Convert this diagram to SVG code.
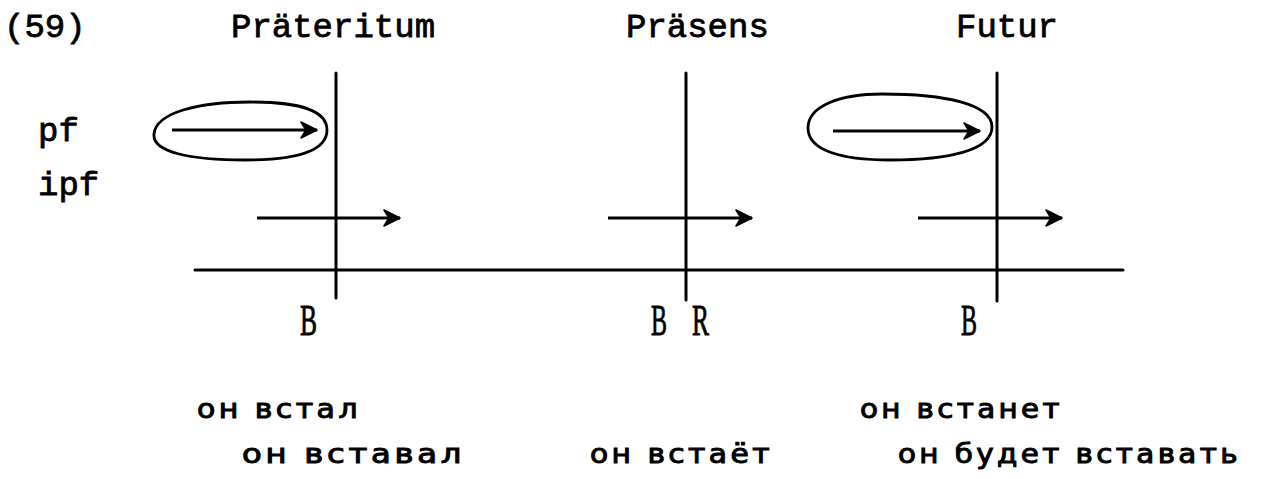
<svg xmlns="http://www.w3.org/2000/svg" width="1262" height="479" viewBox="0 0 1262 479">
<style>
.title{font-family:"Liberation Mono","DejaVu Sans Mono",monospace;font-size:34px;fill:#000;stroke:#000;stroke-width:0.8}
.ru{font-family:"DejaVu Sans","Liberation Sans",sans-serif;font-size:26px;letter-spacing:3px;fill:#000;stroke:#000;stroke-width:1}
.lbl{font-family:"Liberation Serif","DejaVu Serif",serif;font-size:44px;fill:#000;stroke:#000;stroke-width:0.9}
.ln{stroke:#000;stroke-width:3;fill:none;stroke-linecap:round}
.arr{stroke:#000;stroke-width:3.2;fill:none;marker-end:url(#ah)}
.loop{stroke:#000;stroke-width:2.8;fill:none}
</style>
<defs>
<marker id="ah" markerUnits="userSpaceOnUse" markerWidth="22" markerHeight="22" refX="17" refY="10" orient="auto">
<path d="M1,2 L17,10 L1,18 L6,10 z" fill="#000" stroke="#000" stroke-width="1.5" stroke-linejoin="round"/>
</marker>
</defs>
<rect width="1262" height="479" fill="#fff"/>
<g id="headers">
<text class="title" x="4" y="37">(59)</text>
<text class="title" x="231" y="37">Präteritum</text>
<text class="title" x="626" y="37">Präsens</text>
<text class="title" x="956" y="37">Futur</text>
<text class="title" x="38" y="141">pf</text>
<text class="title" x="38" y="195">ipf</text>
</g>
<g id="connectors">
<line class="ln" x1="195" y1="270" x2="1123" y2="270"/>
<line class="ln" x1="336" y1="73" x2="336" y2="298"/>
<line class="ln" x1="686" y1="73" x2="686" y2="300"/>
<line class="ln" x1="997" y1="73" x2="997" y2="301"/>
<line class="arr" x1="172" y1="130" x2="317" y2="130"/>
<line class="arr" x1="257" y1="218" x2="400" y2="218"/>
<line class="arr" x1="608" y1="218" x2="752" y2="218"/>
<line class="arr" x1="833" y1="131" x2="980" y2="131"/>
<line class="arr" x1="918" y1="218" x2="1062" y2="218"/>
</g>
<g id="loop-praet">
<path class="loop" d="M154,134 C156,112 200,102 250,102 C300,102 327,110 327,130 C327,150 300,160 245,160 C190,160 152,152 154,134 Z"/>
</g>
<g id="loop-futur">
<path class="loop" d="M808,128 C808,106 840,94 882,94 C945,94 992,104 992,127 C992,150 950,160 890,160 C840,160 808,150 808,128 Z"/>
</g>
<g id="marks">
<text class="lbl" x="300" y="335" textLength="17" lengthAdjust="spacingAndGlyphs">B</text>
<text class="lbl" x="651" y="335" textLength="16" lengthAdjust="spacingAndGlyphs">B</text>
<text class="lbl" x="692" y="335" textLength="17" lengthAdjust="spacingAndGlyphs">R</text>
<text class="lbl" x="961" y="335" textLength="16" lengthAdjust="spacingAndGlyphs">B</text>
</g>
<g id="forms">
<text class="ru" x="197" y="418" textLength="164" lengthAdjust="spacingAndGlyphs">он встал</text>
<text class="ru" x="242" y="463" textLength="223" lengthAdjust="spacingAndGlyphs">он вставал</text>
<text class="ru" x="590" y="463" textLength="183" lengthAdjust="spacingAndGlyphs">он встаёт</text>
<text class="ru" x="860" y="418" textLength="203" lengthAdjust="spacingAndGlyphs">он встанет</text>
<text class="ru" x="898" y="463" textLength="343" lengthAdjust="spacingAndGlyphs">он будет вставать</text>
</g>
</svg>
